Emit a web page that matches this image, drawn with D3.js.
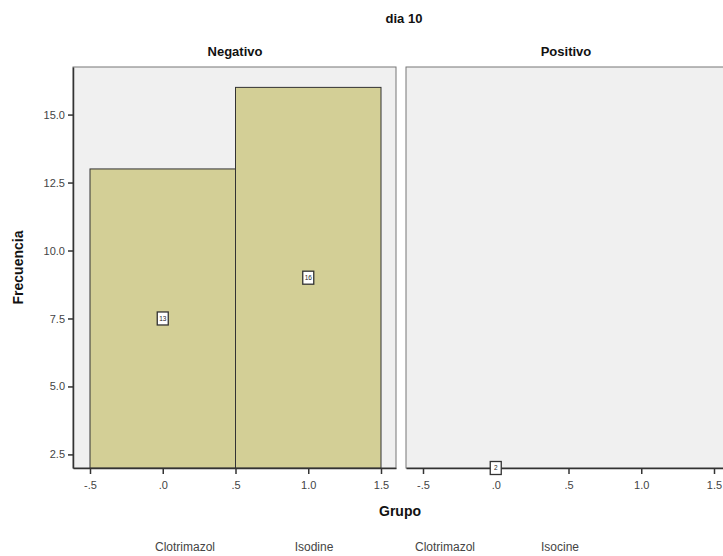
<!DOCTYPE html>
<html><head><meta charset="utf-8">
<script src="https://cdn.jsdelivr.net/npm/d3@7/dist/d3.min.js"></script>
<style>body{margin:0;background:#fff}svg{display:block}text{font-family:Arial,"Liberation Sans",sans-serif}</style>
</head><body>
<svg id="c" width="723" height="556"></svg>
<script>
const title = "dia 10";
const panels = ["Negativo", "Positivo"];
const categories = ["Clotrimazol", "Isodine"];
const groupCodes = [0, 1];
const negativoCounts = [13, 16];
const positivoCounts = [2, null];
const yTicks = [2.5, 5.0, 7.5, 10.0, 12.5, 15.0];
const xTicks = [-0.5, 0, 0.5, 1.0, 1.5];
const bottomLabels = [["Clotrimazol", "Isodine"], ["Clotrimazol", "Isocine"]];

(function () {
const svg = d3.select("#c");
const plotTop = 67, plotBottom = 468;
const y = d3.scaleLinear().domain([2, 16.75]).range([plotBottom, plotTop]);
const panelX = [73, 406];
const panelW = 323;
const unit = 145.5;
const fmt = v => {
  const a = Math.abs(v);
  let s = a.toFixed(1);
  if (a < 1) s = s.slice(1);
  return (v < 0 ? "-" : "") + s;
};

svg.append("text").attr("x", 404).attr("y", 23).attr("text-anchor", "middle")
  .attr("font-size", 13).attr("font-weight", "bold").attr("fill", "#111").text(title);

const dataByPanel = [negativoCounts, positivoCounts];
const labelRanges = [[185, 314], [445, 560]];

panels.forEach((p, i) => {
  const x0 = panelX[i];
  const d0 = -0.5 - 17 / unit;
  const x = d3.scaleLinear().domain([d0, d0 + panelW / unit]).range([x0, x0 + panelW]);
  const g = svg.append("g");
  g.append("rect").attr("x", x0).attr("y", plotTop).attr("width", panelW).attr("height", plotBottom - plotTop)
    .attr("fill", "#f0f0f0").attr("stroke", "#777").attr("stroke-width", 1);
  g.append("text").attr("x", i === 0 ? 235 : 566).attr("y", 56).attr("text-anchor", "middle")
    .attr("font-size", 13).attr("font-weight", "bold").attr("fill", "#111").text(p);

  const bars = groupCodes.map((c, j) => ({c, v: dataByPanel[i][j]})).filter(d => d.v != null);
  g.selectAll("rect.bar").data(bars).enter().append("rect").attr("class", "bar")
    .attr("x", d => x(d.c - 0.5)).attr("width", d => x(d.c + 0.5) - x(d.c - 0.5))
    .attr("y", d => y(d.v)).attr("height", d => Math.max(0, y(2) - y(d.v)))
    .attr("fill", "#d3cf96").attr("stroke", "#333").attr("stroke-width", 1);

  const ax = g.append("g").attr("transform", `translate(0,${plotBottom})`)
    .call(d3.axisBottom(x).tickValues(xTicks).tickSize(6).tickSizeOuter(0).tickFormat(fmt));
  ax.select(".domain").attr("stroke", "#333").attr("stroke-width", 1.3);
  ax.selectAll(".tick line").attr("stroke", "#333").attr("stroke-width", 1.5);
  ax.selectAll(".tick text").attr("font-size", 11).attr("fill", "#444").attr("dy", "1.05em");

  if (i === 0) {
    const ay = g.append("g").attr("transform", `translate(${x0},0)`)
      .call(d3.axisLeft(y).tickValues(yTicks).tickSize(5).tickSizeOuter(0).tickFormat(d3.format(".1f")));
    ay.select(".domain").attr("stroke", "#333").attr("stroke-width", 1.5);
    ay.selectAll(".tick line").attr("stroke", "#333").attr("stroke-width", 1.5);
    ay.selectAll(".tick text").attr("font-size", 11).attr("fill", "#444");
  }

  const lg = g.selectAll("g.lab").data(bars).enter().append("g").attr("class", "lab")
    .attr("transform", d => `translate(${x(d.c)},${y(2 + (d.v - 2) / 2)})`);
  lg.append("rect").attr("x", -5.5).attr("y", -6.5).attr("width", 11).attr("height", 13)
    .attr("fill", "#fff").attr("stroke", "#333").attr("stroke-width", 1.3);
  lg.append("text").attr("text-anchor", "middle").attr("dy", "0.35em").attr("font-size", 6.5)
    .attr("fill", "#222").text(d => d.v);

  const lx = d3.scalePoint().domain(bottomLabels[i]).range(labelRanges[i]);
  g.selectAll("text.cat").data(bottomLabels[i]).enter().append("text").attr("class", "cat")
    .attr("x", d => lx(d)).attr("y", 551).attr("text-anchor", "middle")
    .attr("font-size", 12).attr("fill", "#444").text(d => d);
});

svg.append("text").attr("transform", `translate(23,${(plotTop + plotBottom) / 2}) rotate(-90)`)
  .attr("text-anchor", "middle").attr("font-size", 14).attr("font-weight", "bold").attr("fill", "#111").text("Frecuencia");
svg.append("text").attr("x", 400).attr("y", 516).attr("text-anchor", "middle")
  .attr("font-size", 14).attr("font-weight", "bold").attr("fill", "#111").text("Grupo");
})();
</script>
</body></html>
